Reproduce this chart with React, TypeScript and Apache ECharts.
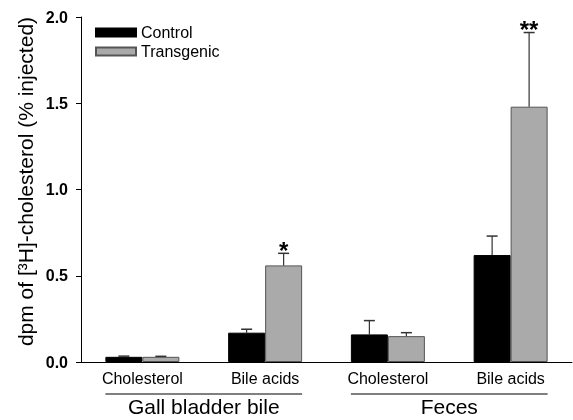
import React, { useEffect, useRef } from 'react';
import * as echarts from 'echarts';

const CATEGORIES = ['Cholesterol', 'Bile acids', 'Cholesterol', 'Bile acids'];
const GROUPS = ['Gall bladder bile', 'Feces'];
const GROUP_SPANS = [
  [0, 1],
  [2, 3],
];
const CONTROL = [0.03, 0.17, 0.16, 0.62];
const CONTROL_ERR = [0.004, 0.02, 0.08, 0.11];
const TRANSGENIC = [0.03, 0.56, 0.15, 1.48];
const TRANSGENIC_ERR = [0.003, 0.07, 0.02, 0.43];
const CONTROL_MARKS = ['', '', '', ''];
const TRANSGENIC_MARKS = ['', '*', '', '**'];
const Y_MIN = 0;
const Y_MAX = 2;
const Y_INTERVAL = 0.5;
const Y_TITLE = 'dpm of [³H]-cholesterol (% injected)';

const FONT = '"Liberation Sans", Arial, Helvetica, sans-serif';
const BAR_W = 37;

function errorSeries(name: string, values: number[], errs: number[], marks: string[], offset: number) {
  return {
    type: 'custom',
    name: name + ' err',
    xAxisIndex: 0,
    yAxisIndex: 0,
    z: 5,
    silent: true,
    data: values.map((v, i) => [i, v, errs[i]]),
    encode: { x: 0, y: 1 },
    renderItem: (params: any, api: any) => {
      const idx = api.value(0);
      const v = api.value(1);
      const e = api.value(2);
      const base = api.coord([idx, v]);
      const top = api.coord([idx, v + e]);
      const x = base[0] + offset;
      const cap = 5.5;
      const children: any[] = [
        { type: 'line', shape: { x1: x, y1: base[1], x2: x, y2: top[1] }, style: { stroke: '#333', lineWidth: 1.2 } },
        { type: 'line', shape: { x1: x - cap, y1: top[1], x2: x + cap, y2: top[1] }, style: { stroke: '#333', lineWidth: 1.5 } },
      ];
      const mark = marks[params.dataIndex];
      if (mark) {
        children.push({
          type: 'text',
          style: {
            text: mark,
            x,
            y: top[1] - 3,
            align: 'center',
            verticalAlign: 'middle',
            fontSize: 24,
            fontWeight: 'bold',
            fontFamily: FONT,
            fill: '#000',
          },
        });
      }
      return { type: 'group', children };
    },
  };
}

export default function App() {
  const ref = useRef<HTMLDivElement>(null);
  useEffect(() => {
    if (!ref.current) return;
    const chart = echarts.init(ref.current, undefined, { renderer: 'svg' });
    chart.setOption({
      animation: false,
      textStyle: { fontFamily: FONT },
      grid: { left: 81, right: 1, top: 17, bottom: 58 },
      legend: {
        data: ['Control', 'Transgenic'],
        orient: 'vertical',
        left: 90,
        top: 19.5,
        itemWidth: 40,
        itemHeight: 8,
        itemGap: 3,
        icon: 'rect',
        textStyle: { fontSize: 16, color: '#000', fontFamily: FONT },
      },
      xAxis: [
        {
          type: 'category',
          data: CATEGORIES,
          axisLine: { lineStyle: { color: '#000', width: 1 } },
          axisTick: { alignWithLabel: true, length: 5, lineStyle: { color: '#000' } },
          axisLabel: { fontSize: 16, color: '#000', margin: 8, fontFamily: FONT, interval: 0 },
        },
        {
          type: 'category',
          data: GROUPS,
          position: 'bottom',
          axisLine: { show: false },
          axisTick: { show: false },
          axisLabel: { fontSize: 21, color: '#000', margin: 34, fontFamily: FONT, interval: 0 },
        },
      ],
      yAxis: {
        type: 'value',
        min: Y_MIN,
        max: Y_MAX,
        interval: Y_INTERVAL,
        splitLine: { show: false },
        axisLine: { show: true, lineStyle: { color: '#000', width: 1 } },
        axisTick: { show: true, length: 5, lineStyle: { color: '#000' } },
        axisLabel: {
          fontSize: 16,
          fontWeight: 'bold',
          color: '#000',
          margin: 13,
          fontFamily: FONT,
          formatter: (v: number) => v.toFixed(1),
        },
      },
      graphic: [
        {
          type: 'text',
          x: 25,
          y: 181.5,
          rotation: Math.PI / 2,
          style: {
            text: Y_TITLE,
            fontSize: 21,
            fontFamily: FONT,
            fill: '#000',
            align: 'center',
            verticalAlign: 'middle',
          },
        },
      ],
      series: [
        {
          type: 'bar',
          name: 'Control',
          data: CONTROL,
          barWidth: BAR_W,
          barGap: '0%',
          itemStyle: { color: '#000', borderColor: '#000', borderWidth: 1 },
        },
        {
          type: 'bar',
          name: 'Transgenic',
          data: TRANSGENIC,
          barWidth: BAR_W,
          barGap: '0%',
          itemStyle: { color: '#aaaaaa', borderColor: '#555', borderWidth: 1 },
        },
        errorSeries('Control', CONTROL, CONTROL_ERR, CONTROL_MARKS, -BAR_W / 2),
        errorSeries('Transgenic', TRANSGENIC, TRANSGENIC_ERR, TRANSGENIC_MARKS, BAR_W / 2),
        {
          type: 'custom',
          name: 'brackets',
          silent: true,
          clip: false,
          data: GROUP_SPANS.map((s) => [s[0], s[1], 0]),
          encode: { x: 0, y: 2 },
          renderItem: (params: any, api: any) => {
            const a = api.coord([api.value(0), 0]);
            const b = api.coord([api.value(1), 0]);
            const y = a[1] + 32;
            return {
              type: 'line',
              shape: { x1: a[0] - BAR_W, y1: y, x2: b[0] + BAR_W, y2: y },
              style: { stroke: '#000', lineWidth: 1 },
            };
          },
        },
      ],
    });
    return () => chart.dispose();
  }, []);
  return <div ref={ref} style={{ position: 'fixed', left: 0, top: 0, width: 573, height: 420 }} />;
}
